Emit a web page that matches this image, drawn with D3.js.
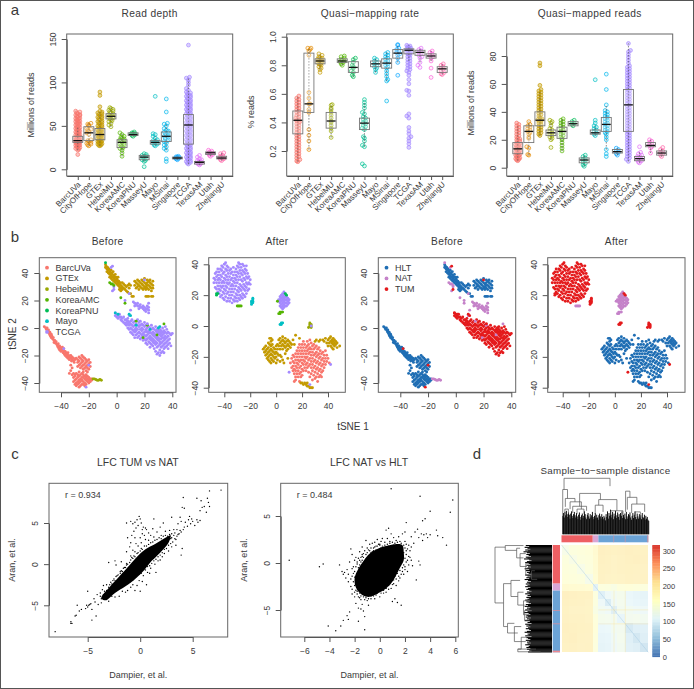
<!DOCTYPE html>
<html>
<head>
<meta charset="utf-8">
<script src="https://cdn.jsdelivr.net/npm/d3@7"></script>
<style>
  body { margin: 0; background: #fff; }
  text { font-family: "Liberation Sans", sans-serif; fill: #3a3a3a; }
</style>
</head>
<body>
<div id="chart"></div>
<script>
// cohorts and their colours
var cohorts = ["BarcUVa", "CityOfHope", "GTEx", "HebeiMU", "KoreaAMC", "KoreaPNU", "MasseyU", "Mayo", "MSinai", "Singapore", "TCGA", "TexasAM", "Utah", "ZhejiangU"];
var cohortColors = ["#F8766D", "#E38900", "#C49A00", "#99A800", "#53B400", "#00BC56", "#00C094", "#00BFC4", "#00B6EB", "#06A4FF", "#A58AFF", "#DF70F8", "#FB61D7", "#FF66A8"];

// a: values read per cohort, same order as cohorts
var depthValues = [
  [17,22,23,24,25,25.5,26,27,27.5,28,29,29.5,30,30.5,31,31,31.5,32,32,32.5,33,33,33.5,34,34,34.5,35,35.5,36,37,37.5,38,39,39.5,40,41,42,42.5,43,44,45,45.5,46,47,48,48.5,49,50,51,52,52.5,53,54,55,55.5,56,57,58,58.5,59,60,61,62,62.5,63,64,65,66,67],
  [27,28,29,30,31,32,33,34,40,42,44,45,46,47,50,51,52,53],
  [27,27.5,28,29,29.5,30,31,31.5,32,33,33.5,34,35,35.5,36,37,37.5,38,39,39.5,40,40.5,41,42,42.5,43,44,45,45.5,46,47,48,49,50,51,52,53,54,55,56,57,58,59,60,61,62,63,64,65,66,67,72,85,89],
  [49,51,53,55,56,57,58,59,60,60.5,61,61.5,62,63,64,65,66,67,68,69,70,71],
  [15,19,22,24,25,26,27,28,29,30,31,32,33,34,35,36,37,38,40,42],
  [38,39,40,40.5,41,41.5,42,43],
  [3,9,10,11,12,13,14,15,16,17,18],
  [27,28,29,30,30.5,31,31.5,32,33,34,36,38,40,41,84],
  [9,12,22,24,26,28,30,32,33,34,35,36,37,38,39,40,41,42,43,44,45,47,50,52,53,66,81],
  [11,12,12.5,13,13.5,14,14.5,15],
  [6,7,8,9,10,11,12,13,14,15,16,17,18,19,20,21,22,23,24,25,26,27,28,29,30,31,32,33,34,35,36,37,38,39,40,41,42,43,44,45,46,47,48,49,50,51,52,53,54,55,56,57,58,59,60,61,62,63,64,65,66,67,68,69,70,71,72,73,74,75,76,77,78,79,80,81,82,83,84,85,86,87,88,89,91,93,97,100,103,105,106,143],
  [5,6,6.5,7,7.5,8,8.5,9,10,11,12,14,16],
  [15,16,17,18,18.5,19,20,21,22],
  [10,11,12,13,13.5,14,15,16,18,19]
];
var rateValues = [
  [0.125,0.13,0.14,0.15,0.16,0.17,0.18,0.19,0.2,0.21,0.22,0.23,0.24,0.25,0.26,0.27,0.28,0.29,0.3,0.31,0.32,0.33,0.34,0.35,0.36,0.37,0.38,0.39,0.4,0.405,0.41,0.415,0.42,0.43,0.44,0.45,0.46,0.47,0.48,0.49,0.5,0.51,0.52,0.53,0.54,0.55,0.56,0.57,0.585],
  [0.21,0.27,0.31,0.35,0.47,0.49,0.53,0.53,0.57,0.61,0.87,0.9,0.91,0.92,0.92],
  [0.75,0.77,0.78,0.79,0.8,0.805,0.81,0.815,0.82,0.825,0.83,0.835,0.84,0.845,0.85,0.855,0.86,0.87,0.88],
  [0.295,0.34,0.36,0.38,0.4,0.41,0.43,0.45,0.47,0.49,0.5,0.52,0.525],
  [0.8,0.81,0.82,0.825,0.83,0.835,0.84,0.85,0.86,0.865],
  [0.72,0.73,0.75,0.76,0.78,0.79,0.8,0.82,0.84,0.85],
  [0.095,0.11,0.23,0.24,0.27,0.29,0.3,0.35,0.36,0.37,0.38,0.39,0.4,0.41,0.42,0.43,0.44,0.46,0.47,0.5,0.52,0.54,0.56],
  [0.75,0.77,0.78,0.79,0.8,0.81,0.82,0.83,0.84,0.85],
  [0.55,0.69,0.7,0.72,0.74,0.76,0.78,0.79,0.8,0.81,0.82,0.83,0.84,0.85,0.86,0.87,0.88,0.89],
  [0.73,0.82,0.85,0.87,0.88,0.89,0.9,0.91,0.92,0.94,0.945],
  [0.225,0.25,0.27,0.29,0.3,0.32,0.34,0.365,0.43,0.445,0.46,0.59,0.62,0.625,0.67,0.7,0.73,0.75,0.76,0.77,0.78,0.79,0.8,0.81,0.82,0.83,0.84,0.85,0.86,0.87,0.875,0.88,0.885,0.89,0.895,0.9,0.905,0.91,0.915,0.92,0.925,0.93,0.935,0.94],
  [0.785,0.8,0.82,0.85,0.86,0.87,0.88,0.89,0.9,0.91,0.92],
  [0.715,0.78,0.83,0.85,0.86,0.87,0.88,0.89,0.9],
  [0.735,0.74,0.75,0.76,0.77,0.78,0.79,0.8,0.81]
];
var mappedValues = [
  [5,5.5,6,6.5,7,7.5,8,8.5,9,9.5,10,10.5,11,11.5,12,12.5,13,13.5,14,14.5,15,15.5,16,16.5,17,17.5,18,19,20,20.5,21,22,23,24,25,26,27,28,29,30,31,32],
  [9,9.5,14,15,21,22,24,25,26,27,28,29,30,31,33],
  [23,24,25,26,27,28,29,30,31,32,33,33.5,34,34.5,35,36,37,38,39,40,41,42,43,44,45,46,47,48,49,50,51,52,53,54,55,56,59,73,75],
  [14.5,20,21,22,23,24,25,26,27,28,30,32,33,34],
  [12,14,16,18,20,21,22,23,24,25,26,27,28,29,30,31,32,33,34,35],
  [30,31,32,33,34],
  [1,2,3,4,5,6,7,8,9],
  [23,24,25,26,27,28,29,30,32,34,63],
  [8,10,13,20,22,24,25,26,27,28,29,30,31,32,33,34,35,36,37,38,39,40,41,45,56,67],
  [9,10,11,12,13,14],
  [4.5,6,7,8,9,10,11,12,13,14,15,16,17,18,19,20,21,22,23,24,25,26,27,28,29,30,31,32,33,34,35,36,37,38,39,40,41,42,43,44,45,46,47,48,49,50,51,52,53,54,55,56,57,58,59,60,61,62,63,64,65,66,67,68,69,70,71,72,73,75,77,79,81,83,84,89],
  [3.5,4,5,5.5,6,6.5,7,7.5,8,9,10,11,15],
  [10.5,14,15,16,17,18,19,20],
  [8,9,10,11,12,13,14.5]
];
// box quartiles per cohort [q1, median, q3]
var depthBoxes = [[31,33,38],[33,42,49],[34,40,47],[58,61,64],[25,31,34],[39,40,42],[11,14,16],[29,31,33],[32,38,43],[12,13,14],[29,51,63],[6,8,9],[17,19,20],[12,13,15]];
var rateBoxes = [[0.32,0.415,0.48],[0.47,0.53,0.885],[0.81,0.83,0.845],[0.36,0.41,0.47],[0.82,0.83,0.845],[0.75,0.785,0.825],[0.35,0.395,0.43],[0.79,0.81,0.83],[0.78,0.815,0.845],[0.85,0.885,0.91],[0.88,0.905,0.915],[0.87,0.89,0.905],[0.85,0.865,0.88],[0.75,0.775,0.79]];
var mappedBoxes = [[10,13.5,18],[18,26,30],[30,34,40],[23,25,27],[21,26,29],[30,31.5,33],[3.5,5.5,7],[24,25,27],[26,31,36],[10.5,11.5,13],[26,45,56],[5,6.5,8],[15,16,18],[9,10.5,12]];

// b: tSNE embedding before correction
var beforeBarc = [[-52,1],[-51,0],[-50.5,-1],[-50,0],[-49.5,-2],[-49,-1.5],[-49,-3],[-48.5,-4],[-48,-3],[-48,-5],[-47.5,-6],[-47,-4.5],[-47,-7],[-46.5,-6],[-46,-8],[-45.5,-7],[-45,-9],[-45,-10.5],[-44.5,-9],[-44,-11],[-43.5,-10],[-43,-12],[-42.5,-13],[-42,-11.5],[-42,-14],[-41.5,-15],[-41,-13],[-41,-16],[-40.5,-14],[-40,-15.5],[-40,-17],[-39,-14],[-39,-16],[-38.5,-18],[-38,-15],[-38,-17],[-37.5,-19],[-37,-17],[-37,-20],[-36.5,-18],[-36,-19],[-36,-21],[-35.5,-20],[-35,-18],[-35,-22],[-34.5,-20],[-34,-21],[-34,-23],[-33,-20],[-33,-22],[-32.5,-24],[-32,-21],[-32,-23],[-31,-22],[-31,-24],[-30.5,-25],[-30,-23],[-33,-27],[-33,-31],[-32,-29],[-34,-33],[-31,-33],[-30,-34],[-32,-34],
  [-29,-22],[-28,-23],[-28,-25],[-27,-21],[-27,-24],[-27,-27],[-26,-22],[-26,-26],[-26,-29],[-25,-20],[-25,-23],[-25,-25],[-25,-28],[-24,-21],[-24,-24],[-24,-27],[-24,-30],[-23,-22],[-23,-26],[-23,-29],[-22,-23],[-22,-25],[-22,-28],[-22,-31],[-21,-24],[-21,-27],[-21,-29],[-20,-23],[-20,-26],[-20,-30],[-19,-25],[-19,-28],[-28,-28],[-24,-32],[-21,-32],
  [-31,-36],[-31,-39],[-30,-35],[-30,-38],[-30,-41],[-29,-37],[-29,-40],[-29,-42],[-28,-34],[-28,-36],[-28,-39],[-28,-41],[-27,-35],[-27,-38],[-27,-40],[-27,-43],[-26,-34],[-26,-37],[-26,-39],[-26,-42],[-25,-36],[-25,-38],[-25,-41],[-24,-34],[-24,-36],[-24,-39],[-24,-41],[-23,-35],[-23,-37],[-23,-40],[-23,-42],[-22,-34],[-22,-36],[-22,-38],[-22,-41],[-21,-35],[-21,-37],[-21,-39],[-20,-36],[-20,-38],[-20,-40],[-19,-37],[-19,-39],[-18,-37],[-18,-38],[-27,-32],[-25,-33],[-29,-33]];
var beforeGtex = [[-8,46],[-8,44],[-7.5,45],[-7,43],[-7,41],[-6.5,44],[-6,42],[-6,40],[-5.5,43],[-5,41],[-5,39],[-5,37],[-4.5,40],[-4,42],[-4,38],[-4,36],[-3.5,40],[-3,39],[-3,37],[-3,35],[-2.5,41],[-2,38],[-2,36],[-2,34],[-1.5,37],[-1,39],[-1,35],[-1,33],[-0.5,37],[0,36],[0,34],[0,32],[0.5,35],[1,37],[1,33],[1,31],[1.5,34],[2,32],[2,30],[2,28],[2.5,33],[3,31],[3,29],[3,27],[4,33],[4,30],[4,28],[5,29],[5,32],[6,31],[6,28],[7,30],[7,27],[8,26],[8,31],[9,29],[10,25],[11,23],[12,23],[9,32],[10,31],
  [13,34],[13,31],[14,33],[14,29],[15,35],[15,32],[15,30],[16,34],[16,31],[16,28],[17,33],[17,30],[18,35],[18,32],[18,29],[19,34],[19,31],[19,28],[20,36],[20,33],[20,30],[20,29],[21,32],[21,30],[21,28],[22,35],[22,33],[22,31],[22,29],[23,34],[23,31],[23,28],[24,35],[24,33],[24,30],[25,32],[25,29],[25,27],[26,34],[26,31],[26,29],[21,23],[22,23],[23,23],[25,23],[26,23]];
var beforeTcga = [[-1,11],[-1,9],[0,10],[0,8],[1,9],[1,7],[2,8],[2,10],[3,6],[3,8],[4,7],[4,5],[5,8],[5,4],[6,6],[6,3],[7,6],[7,4],[7,2],[8,7],[8,5],[8,3],[8,0],[9,4],[9,2],[9,-1],[10,5],[10,3],[10,0],[10,-3],[11,6],[11,2],[11,-1],[11,-4],[12,4],[12,1],[12,-2],[12,-5],[13,5],[13,2],[13,-1],[13,-3],[13,-7],[14,3],[14,0],[14,-2],[14,-5],[15,6],[15,2],[15,-1],[15,-4],[15,-7],[16,4],[16,1],[16,-3],[16,-6],[17,5],[17,2],[17,-1],[17,-4],[17,-8],[18,3],[18,0],[18,-2],[18,-5],[18,-7],[19,2],[19,-1],[19,-4],[19,-6],[19,-9],[20,4],[20,1],[20,-3],[20,-5],[20,-8],[21,2],[21,-1],[21,-2],[21,-6],[21,-9],[21,-11],[22,3],[22,0],[22,-3],[22,-5],[22,-8],[22,-12],[23,1],[23,-2],[23,-4],[23,-7],[23,-10],[24,0],[24,-3],[24,-6],[24,-8],[24,-11],[24,-14],[25,2],[25,-1],[25,-4],[25,-7],[25,-9],[25,-12],[26,0],[26,-3],[26,-5],[26,-8],[26,-10],[26,-13],[27,-1],[27,-4],[27,-6],[27,-9],[27,-11],[27,-15],[28,1],[28,-2],[28,-5],[28,-7],[28,-10],[28,-12],[28,-17],[29,-1],[29,-3],[29,-6],[29,-8],[29,-11],[29,-14],[29,-19],[30,0],[30,-2],[30,-4],[30,-7],[30,-9],[30,-13],[30,-18],[31,-1],[31,-3],[31,-5],[31,-8],[31,-10],[31,-12],[31,-16],[31,-20],[32,-2],[32,-4],[32,-6],[32,-8],[32,-11],[32,-14],[32,-18],[33,0],[33,-3],[33,-5],[33,-7],[33,-10],[33,-13],[33,-17],[34,-2],[34,-4],[34,-7],[34,-9],[34,-12],[34,-15],[35,1],[35,-3],[35,-6],[35,-8],[35,-11],[35,-14],[36,-1],[36,-4],[36,-7],[36,-10],[36,-13],[37,-3],[37,-6],[37,-9],[37,-12],[37,-15],[38,-4],[38,-8],[38,-11],[39,-5],[39,-13],[40,-4],[34,-18]];
var beforeTcgaNat = [[12,19],[13,18],[13,16],[14,17],[15,18],[15,16],[16,16],[16,14],[17,17],[17,15],[18,15],[19,16],[19,14],[20,15],[20,13],[21,14],[21,12],[22,16],[22,14],[23,18],[23,15],[23,13],[23,11],[9,25],[6,20],[10,13],[9,9],[-4,44],[-2,30],[-3,27]];
var beforeHebei = [[-17,-37],[-16,-37],[-15,-37.5],[-14,-38],[-13,-38],[-12,-37.5],[-11,-38]];
var beforeAmc = [[-5,33],[-4,32],[-3,32],[-2,31],[3,22],[6,18],[14,5],[19,-7],[22,2],[29,-5],[34,3]];
var beforePnu = [[-8,47.5]];
var beforeMayo = [[-1,11],[1,10],[9,10],[10,9],[14,2],[24,-1],[30,0],[31,1]];
var beforeStray = [[-3,45],[-20,-27],[-22,-43],[-38,-15],[-2,28],[20,35],[22,3]];

// b: tSNE embedding after correction
var afterTcga = [[-48,28],[-48,31],[-47,25],[-47,30],[-47,34],[-46,24],[-46,28],[-46,32],[-46,35],[-45,22],[-45,26],[-45,30],[-45,33],[-45,37],[-44,21],[-44,24],[-44,28],[-44,31],[-44,35],[-43,19],[-43,23],[-43,26],[-43,30],[-43,33],[-43,37],[-42,20],[-42,25],[-42,28],[-42,32],[-42,36],[-42,39],[-41,18],[-41,22],[-41,26],[-41,29],[-41,34],[-41,38],[-40,17],[-40,21],[-40,24],[-40,28],[-40,31],[-40,35],[-40,40],[-39,19],[-39,23],[-39,26],[-39,30],[-39,33],[-39,37],[-39,41],[-38,16],[-38,21],[-38,25],[-38,28],[-38,32],[-38,36],[-38,39],[-37,18],[-37,22],[-37,27],[-37,30],[-37,34],[-37,38],[-36,16],[-36,20],[-36,24],[-36,28],[-36,32],[-36,36],[-35,18],[-35,22],[-35,26],[-35,30],[-35,34],[-35,37],[-34,15],[-34,20],[-34,24],[-34,27],[-34,31],[-34,35],[-33,17],[-33,22],[-33,26],[-33,29],[-33,33],[-33,38],[-32,16],[-32,19],[-32,24],[-32,28],[-32,31],[-32,35],[-31,18],[-31,21],[-31,26],[-31,30],[-31,33],[-31,37],[-30,16],[-30,20],[-30,23],[-30,28],[-30,32],[-30,35],[-30,39],[-29,18],[-29,22],[-29,25],[-29,30],[-29,34],[-29,38],[-29,41],[-28,17],[-28,20],[-28,24],[-28,27],[-28,32],[-28,36],[-28,40],[-27,19],[-27,23],[-27,26],[-27,30],[-27,34],[-27,38],[-26,18],[-26,21],[-26,25],[-26,29],[-26,33],[-26,36],[-26,40],[-25,20],[-25,24],[-25,27],[-25,31],[-25,35],[-25,39],[-24,19],[-24,23],[-24,26],[-24,30],[-24,34],[-24,37],[-23,21],[-23,25],[-23,28],[-23,32],[-23,36],[-23,39],[-22,23],[-22,27],[-22,31],[-22,34],[-21,24],[-21,28],[-21,32],[-20,27],[-20,30]];
var afterTcgaNat = [[2,17],[2,16],[3,19],[3,17],[3,15],[3,13],[4,20],[4,18],[4,16],[4,14],[4,12],[5,21],[5,19],[5,17],[5,15],[5,13],[5,11],[6,22],[6,20],[6,18],[6,16],[6,14],[6,12],[7,21],[7,19],[7,17],[7,15],[7,13],[8,19],[8,17],[8,15],[8,13],[9,18],[9,16],[9,14],[10,17],[10,15]];
var afterBarc = [[11,-24],[12,-21],[12,-27],[13,-19],[13,-23],[13,-26],[13,-29],[14,-20],[14,-24],[14,-28],[14,-31],[15,-18],[15,-22],[15,-26],[15,-29],[15,-33],[16,-16],[16,-20],[16,-24],[16,-27],[16,-31],[17,-14],[17,-18],[17,-22],[17,-25],[17,-29],[17,-33],[18,-12],[18,-16],[18,-20],[18,-23],[18,-27],[18,-31],[18,-36],[19,-14],[19,-18],[19,-22],[19,-26],[19,-30],[19,-33],[20,-12],[20,-16],[20,-20],[20,-24],[20,-28],[20,-32],[21,-10],[21,-14],[21,-18],[21,-22],[21,-25],[21,-29],[22,-12],[22,-16],[22,-20],[22,-23],[22,-27],[23,-14],[23,-18],[23,-21],[23,-25],[23,-29],[24,-10],[24,-13],[24,-16],[24,-20],[24,-24],[24,-27],[25,-12],[25,-15],[25,-18],[25,-22],[25,-26],[25,-30],[26,-9],[26,-14],[26,-17],[26,-21],[26,-25],[26,-33],[27,-11],[27,-15],[27,-19],[27,-23],[27,-27],[27,-31],[28,-13],[28,-17],[28,-21],[28,-25],[28,-29],[28,-35],[29,-12],[29,-15],[29,-19],[29,-23],[29,-27],[29,-32],[30,-14],[30,-18],[30,-22],[30,-26],[30,-30],[30,-34],[31,-13],[31,-17],[31,-20],[31,-24],[31,-28],[31,-33],[32,-15],[32,-19],[32,-23],[32,-27],[32,-31],[32,-36],[33,-14],[33,-18],[33,-21],[33,-25],[33,-29],[33,-33],[34,-16],[34,-20],[34,-24],[34,-28],[34,-32],[35,-18],[35,-22],[35,-26],[35,-30],[36,-17],[36,-21],[36,-25],[36,-29],[37,-19],[37,-23],[37,-27],[38,-16],[38,-21],[38,-25],[39,-19],[39,-23],[40,-21],[41,-24],[15,-35],[14,-36],[35,-33]];
var afterGtex = [[-10,-15],[-9,-14],[-9,-17],[-8,-13],[-8,-16],[-8,-19],[-7,-15],[-7,-18],[-7,-21],[-6,-11],[-6,-14],[-6,-17],[-6,-20],[-6,-22],[-5,-8],[-5,-12],[-5,-16],[-5,-19],[-5,-23],[-4,-8],[-4,-10],[-4,-13],[-4,-15],[-4,-18],[-4,-21],[-4,-24],[-3,-9],[-3,-12],[-3,-16],[-3,-19],[-3,-22],[-2,-14],[-2,-17],[-2,-20],[-2,-23],[-1,-15],[-1,-18],[-1,-21],[0,-13],[0,-17],[0,-20],[0,-24],[1,-12],[1,-15],[1,-18],[1,-22],[2,-9],[2,-13],[2,-19],[3,-8],[3,-11],[3,-15],[3,-23],[4,-10],[4,-13],[4,-20],[5,-7],[5,-9],[5,-12],[5,-15],[5,-22],[6,-10],[6,-13],[6,-24],[7,-8],[7,-11],[7,-14],[7,-18],[8,-10],[8,-13],[8,-16],[9,-9],[9,-12],[9,-15],[10,-10],[10,-13],[11,-11],[11,-14],[12,-12],[13,-9],[14,-12],[15,-6],[18,-8],[9,-21],[3,-19],
  [34,-9],[36,-9],[37,-10],[38,-8],[39,-11],[40,-9],[40,-13],[41,-8],[41,-11],[42,-7],[42,-10],[42,-13],[43,-9],[43,-11],[43,-14],[44,-8],[44,-10],[44,-12],[44,-15],[45,-9],[45,-11],[45,-13],[46,-10],[46,-12],[47,-11],[47,-14],[49,-13],[33,-10],[31,-9],[30,-10],
  [19,-37],[20,-37],[21,-38],[22,-37],[23,-38],[24,-39],[24,-37],[25,-39],[26,-40],[27,-40],[28,-40]];
var afterHebei = [[26,0],[26,1],[26,2],[27,0],[27,1],[27,-1],[25,-1]];
var afterPnu = [[-46,20],[-46,21],[-45,21],[7,21],[8,20]];
var afterAmc = [[-30,13],[-29,13],[-28,13],[-27,13],[1,16],[2,8],[3,8],[3,9],[4,9],[5,9]];
var afterMayo = [[-19,14],[-19,15],[-19,16],[-18,15],[-18,16],[-18,17],[-18,18],[3,1],[4,1],[4,2],[5,2]];
var afterStray = [[10,-30],[42,-25],[26,-38],[27,0]];

// c: log fold changes, core outlines and the points readable around them
var lfcTumCore = [[-3.7,-4.1],[-3,-2.9],[-2,-1.5],[-1,-0.1],[-0.3,0.9],[0.5,1.8],[1.5,2.5],[2.4,3.2],[2.9,3.5],[2.7,2.6],[1.9,1.4],[1.1,0.4],[0.4,-0.7],[-0.4,-1.7],[-1.4,-2.7],[-2.4,-3.5],[-3.3,-4.4]];
var lfcTumPoints = [[-8.1,-8.2],[-6.6,-7.2],[-6.6,-7],[-6.5,-7.2],[-6.2,-6.3],[-6.1,-6.2],[-6,-5],[-5.8,-5.7],[-5.6,-5.5],[-5.2,-5.4],[-5.1,-5],[-5,-5.2],[-4.9,-5],[-4.8,-4.9],[-4.6,-5.5],[-4.6,-6.8],[-4.2,-6.3],[-5,-3.3],[-4.7,-4.8],[-4.4,-4.2],[-4.3,-4.6],[-4.1,-3.7],[-4,-4.9],[-3.8,-3.5],[-3.7,-4.7],[-3.6,-3.1],[-3.5,-2.6],[-3.4,-4.2],[-3.2,-2.5],[-3,-4.5],[-2.8,-2.2],[-2.7,-3.9],[-2.5,-1.8],[-2.4,-4],[-2.3,-1.5],[-2,-3.9],[-1.9,-0.9],[-1.8,0.3],[-1.7,-3.3],[-1.5,-0.4],[-1.4,-3.4],[-1.3,0.1],[-1.2,-3.2],[-1,2.1],[-0.9,1],[-0.9,-2.8],[-0.8,0.8],[-0.7,1.7],[-0.7,-2.5],[-0.5,-3.2],[-0.5,1.5],[-0.4,2.5],[-0.3,-2.6],[-0.2,2.2],[-0.1,-2],[0,3.2],[0,-3.3],[0.1,2.6],[0.2,-2.1],[0.3,-1.4],[0.4,3.5],[0.5,3],[0.6,-2.5],[0.7,-1],[0.8,2.9],[0.9,-1.1],[1,3.5],[1,-0.5],[1.2,4.3],[1.3,3.3],[1.4,0],[1.5,-1],[1.6,3.9],[1.7,0.4],[1.9,0.5],[2,3.5],[2.1,0.9],[2.3,1.3],[2.4,4],[2.7,1.6],[2.8,4.1],[3,2.1],[3.2,4.2],[3.3,3.8],[3.4,2.3],[3.5,4.2],[3.6,3.6],[3.8,4.1],[3.9,1.1],[4,1.9],[4.1,4.2],[4.2,4.5],[4.3,5.1],[4.5,4.6],[4.6,5.4],[4.7,5.8],[4.8,4.9],[4.9,5.5],[5,5.2],[5.2,4.7],[5.4,5.4],[5.5,5.1],[5.7,5.3],[3.9,5.2],[4,6.9],[4.2,6.8],[4.1,8.1],[5.4,8],[5.8,7.7],[6.4,8],[6.6,8.9],[7.7,9],[6.5,7.5],[6.6,7],[6.1,7],[5.9,6.9],[5.7,6.5],[6.3,6.3],[3.6,4.9],[3.8,5.7],[3,5.7],[2.2,5],[1.9,4.5],[1.3,5.5],[-1.3,5],[-0.9,5.2],[-0.7,4.9],[-0.5,5.1],[-0.3,5.4],[-0.1,5.8],[0,5.5],[0.1,5],[-0.2,4.7],[0.3,4.5],[0.5,4.4],[0.6,4.2],[0.8,3.8],[0.2,4.2],[-0.4,4.4],[-0.6,4],[-0.8,3.5],[-1.2,3.2],[-0.5,3.2],[0.2,3.7],[-0.9,2.6],[-1.3,1.5],[-2.4,0.4],[-3,0.2],[-2.3,-0.1]];
var lfcTumEdge = [[-3.8,-3.9],[-3.7,-4.2],[-3.5,-3.7],[-3.4,-3.3],[-3.3,-4],[-3.2,-3.2],[-3.1,-3.7],[-3,-2.8],[-2.9,-3.4],[-2.9,-2.5],[-2.8,-3.5],[-2.7,-2.4],[-2.6,-3.3],[-2.6,-2],[-2.5,-3.2],[-2.4,-2],[-2.3,-3.2],[-2.2,-1.4],[-2.2,-2.9],[-2.1,-1.3],[-2,-2.9],[-1.9,-1.1],[-1.9,-2.5],[-1.8,-0.8],[-1.8,-2.6],[-1.7,-0.9],[-1.6,-2.5],[-1.6,-0.5],[-1.5,-2.2],[-1.4,-0.4],[-1.4,-2.4],[-1.3,-0.1],[-1.2,-2.3],[-1.2,0],[-1.1,-1.9],[-1,0.2],[-1,-2.2],[-0.9,0.5],[-0.8,-1.7],[-0.7,0.7],[-0.7,-1.9],[-0.6,1],[-0.5,-1.4],[-0.5,0.9],[-0.4,-1.5],[-0.3,1.3],[-0.3,-1.2],[-0.2,1.4],[-0.1,-1.2],[0,1.6],[0,-0.8],[0.1,1.9],[0.1,-1.1],[0.2,1.8],[0.3,-0.6],[0.4,2.2],[0.5,-0.7],[0.6,2.2],[0.7,-0.3],[0.8,2.4],[0.9,-0.2],[1,2.6],[1.1,0.1],[1.2,2.7],[1.3,0.4],[1.4,2.9],[1.5,0.6],[1.6,3],[1.7,0.9],[1.8,3.2],[1.9,1.1],[2,3.1],[2.1,1.4],[2.2,3.4],[2.3,1.8],[2.4,3.5],[2.5,1.9],[2.6,3.4],[2.7,2.3],[2.8,3.6],[2.9,2.5],[3,3.7],[3.1,2.7],[3.2,3.5],[3.3,3.1],[3.4,3],[3.5,3.4],[3,3.2],[2.9,3.1],[3.7,3.7],[3.9,3.9]];
var lfcNatCore = [[-1.9,-2.6],[-2,-1.6],[-1.7,-0.6],[-1.3,0.2],[-0.8,1],[-0.2,1.5],[0.5,1.8],[1.2,2],[1.8,1.9],[1.9,1.2],[1.9,0.3],[1.6,-0.5],[1.3,-1.3],[1,-2],[0.5,-2.7],[-0.1,-3.2],[-0.8,-3.6],[-1.4,-3.4]];
var lfcNatPoints = [[-7.2,0.3],[-4.8,-0.4],[-4.5,-0.1],[-4.1,-6.7],[-3.5,-7.2],[-3.1,-6.7],[-2.9,-6.1],[-2.6,-5.6],[-2.5,-6],[-2.4,-5.2],[-3.2,-0.2],[-3,-0.9],[-2.9,-1.2],[-2.8,-1],[-2.7,-1.6],[-2.6,-0.7],[-2.5,-1.2],[-2.5,-2],[-2.4,0.1],[-2.3,-1.7],[-2.3,1.5],[-2.2,0.9],[-2.2,-0.6],[-2.2,-2.8],[-2.2,-3.3],[-2.1,-0.4],[-2.1,-1.1],[-2,0.3],[-2,-3.1],[-2,-3.6],[-1.9,0.6],[-1.9,-4.3],[-1.8,-0.1],[-1.8,-3],[-1.7,0.5],[-1.7,-4.8],[-1.7,-6.2],[-1.6,1.2],[-1.6,-3.7],[-1.5,-4.9],[-1.4,1.7],[-1.4,0.7],[-1.4,-4.4],[-1.3,-5.1],[-1.2,1.3],[-1.2,-3.9],[-1.2,-5.7],[-1.2,-7.1],[-1.1,2.4],[-1,1.6],[-1,-4],[-0.9,-4.5],[-0.8,2],[-0.8,1.3],[-0.7,-3.8],[-0.6,2.1],[-0.5,1.6],[-0.4,2.2],[-0.4,-3.8],[-0.3,1.8],[-0.3,-3.4],[-0.2,2.5],[-0.1,2],[0,1.9],[0,-3.6],[0.1,2.3],[0.2,2.6],[0.3,-3.2],[0.4,2.2],[0.5,3.5],[0.5,-3.1],[0.6,2.6],[0.7,3.7],[0.7,-2.8],[0.8,2.3],[0.9,-2.7],[0.9,3.1],[0.9,7.9],[1,-4.1],[1.1,-2.2],[1.1,2.7],[1.2,-3.8],[1.3,-2.4],[1.3,2.4],[1.4,-4.2],[1.5,-1.9],[1.5,2.8],[1.6,-1.6],[1.7,-4.5],[1.8,3.1],[1.9,-1.2],[2,-0.7],[2,2.3],[2,3.3],[2.1,1.3],[2.1,4.3],[2.2,-0.9],[2.3,1.9],[2.4,0.6],[2.5,2.8],[2.6,-0.3],[2.7,2.1],[2.8,3.3],[2.9,-1.8],[3,3.6],[3.1,2.7],[3.1,0.2],[3.2,-0.2],[3.3,3.1],[3.4,4.5],[3.4,2.4],[3.5,3],[3.6,4.7],[3.7,3.1],[3.8,2.7],[4,3],[4,5.5],[3.2,7.1],[4.5,3.5],[4.6,2.9],[5,2.7],[5.3,1.9],[5.6,5.4],[5.8,6.7]];
var lfcNatEdge = [[-2.3,-2.5],[-2.2,-1.4],[-2.1,-2],[-2,-0.9],[-2,-2.4],[-2,-1.5],[-1.9,-0.4],[-1.9,-2.9],[-1.9,-1.8],[-1.8,-1.1],[-1.8,-3.3],[-1.8,0.1],[-1.8,-2.2],[-1.7,-0.5],[-1.7,-2.8],[-1.7,-3.6],[-1.6,0.3],[-1.6,-0.2],[-1.6,-3.2],[-1.5,0.6],[-1.5,-3.5],[-1.5,0.1],[-1.5,-3.9],[-1.4,0.9],[-1.4,-3.2],[-1.4,0.3],[-1.3,-3.6],[-1.3,0.6],[-1.3,1],[-1.2,0.2],[-1.2,-3.4],[-1.1,0.9],[-1.1,-3.7],[-1.1,0.4],[-1,1.1],[-1,-3.4],[-0.9,0.8],[-0.9,-3.8],[-0.9,1.4],[-0.8,-3.3],[-0.7,1.1],[-0.7,-3.5],[-0.7,1.6],[-0.6,1.2],[-0.6,-3.2],[-0.5,1.3],[-0.5,-3.5],[-0.4,1.7],[-0.4,-3.1],[-0.3,1.4],[-0.2,1.8],[-0.2,-3.2],[-0.1,1.4],[-0.1,-3],[0,2],[0,-2.9],[0.1,1.6],[0.1,-3.2],[0.2,1.8],[0.2,-2.6],[0.3,1.5],[0.3,-2.9],[0.4,1.9],[0.4,-2.3],[0.5,1.7],[0.5,-2.7],[0.6,2],[0.6,-2.1],[0.7,1.8],[0.7,-2.4],[0.8,2.1],[0.8,-2.2],[0.9,1.7],[0.9,-1.9],[1,2.2],[1,-2.3],[1,-1.6],[1.1,1.9],[1.1,-1.8],[1.2,2.1],[1.2,-1.4],[1.3,1.8],[1.3,-1.7],[1.4,2.2],[1.4,-1.1],[1.5,1.9],[1.5,-1.4],[1.6,2.3],[1.6,-0.8],[1.7,1.8],[1.7,-1.2],[1.7,2.1],[1.8,-0.5],[1.8,1.4],[1.8,-0.9],[1.9,1.9],[1.9,-0.2],[1.9,1.1],[2,0.5],[2,-0.4],[2,1.6],[2.1,0.1],[2.1,0.9],[2.1,2],[2.2,1.5],[2.2,0.3],[2.3,0.7],[2.3,-0.2],[2.4,1.3],[2.5,0.3],[2.5,1.7]];

// d: heatmap, distances between sample blocks (symmetric), and block edges in percent of samples
var heatBreaks = [0, 9, 18, 27, 36, 42.5, 50, 57, 64, 73, 82, 91, 100];
var heatValues = [
  [135,150,152,155,172,200,198,196,197,200,198,196],
  [150,138,150,152,170,198,196,192,195,198,200,197],
  [152,150,134,150,168,196,194,192,194,196,195,193],
  [155,152,150,130,166,194,192,190,192,194,193,195],
  [172,170,168,166,95,150,148,140,152,155,152,150],
  [200,198,196,194,150,92,110,118,128,104,100,98],
  [198,196,194,192,148,110,85,112,126,106,102,100],
  [196,192,192,190,140,118,112,90,122,118,112,110],
  [197,195,194,192,152,128,126,122,100,124,126,122],
  [200,198,196,194,155,104,106,118,124,82,92,94],
  [198,200,195,193,152,100,102,112,126,92,78,90],
  [196,197,193,195,150,98,100,110,122,94,90,76]
];
var heatTicks = [0, 50, 100, 150, 200, 250, 300];
var heatColors = ["#4575B4", "#91BFDB", "#E0F3F8", "#FFFFBF", "#FEE090", "#FC8D59", "#D73027"];
var colSegments = [[0, 36, "#EE5F63"], [36, 42.5, "#D9A6D6"], [42.5, 100, "#6BA3D6"], [60, 60.6, "#EE8A90"], [73, 73.6, "#EE8A90"], [99, 100, "#EE8A90"]];
var rowSegments = [[0, 36, "#EE5F63"], [36, 42.5, "#D9A6D6"], [42.5, 100, "#6BA3D6"], [60.6, 61.2, "#EE8A90"], [73.2, 73.8, "#EE8A90"], [98.5, 100, "#EE8A90"]];

// merges [posA, posB, height, heightA, heightB]
var topMerges = [[2,55,100,80,86],[0.5,6,80,30,64],[3.5,14.6,64,49,58],[9,22,58,45,45],[20,44,73,50,62],[12,28,50,38,42],[42,63,62,52,42],[38,47,52,36,40],[73,78,77,40,66],[75,86,66,44,54],[80,95,54,38,40],[56,70,42,34,36],[3,7,45,34,36],[17,25,45,36,36],[84,90,40,32,30]];
var leftMerges = [[2,54,100,82,85],[0.5,5,82,50,62],[3,12,62,56,50],[8,20,56,46,44],[17,28,46,40,36],[36,76,85,72,78],[33,48,72,56,60],[44,56,60,50,48],[52,65,50,44,40],[61,70,48,36,38],[73,82,78,66,60],[76,90,66,54,46],[86,97,54,44,60],[97,99.5,60,28,20],[24,32,36,30,26]];
var topSpikes = [33,38,30,40,34,42,36,31,39,35,28,37,41,33,29,36,40,34,30,38,32,27,35,39,31,26,34,37,29,33,41,36,30,27,35,38,32,28,36,30,34,40,31,27,33,38,29,35,30,26,34,37,32,28,36,31,27,33,30,25,
  36,31,41,28,38,33,44,30,35,40,27,37,32,42,29,34,39,31,36,26,38,33,41,29,35,30,37,27,40,32,28,36,34,39,30,26,33,38,29,35,41,31,27,37,32,28,36,30,34,27,38,31,29,35,26,33,28,31,26,24];
var leftSpikes = [46,40,48,43,38,47,42,50,44,39,45,41,37,46,43,49,40,36,44,47,41,38,45,42,37,43,48,40,46,39,44,41,36,47,43,38,45,40,48,42,37,44,41,46,39,43,47,38,42,45,40,36,44,41,47,39,43,37,45,40,
  43,47,39,45,41,37,46,42,48,38,44,40,47,36,43,49,41,38,45,42,46,37,44,40,48,39,43,36,47,41,45,38,42,46,40,37,44,48,39,43,41,47,36,45,42,38,46,40,44,37,43,47,39,41,45,38,44,40,36,42];

// layout
var width = 694, height = 689;
var boxColor = "#666", axisColor = "#555";

var svg = d3.select("#chart").append("svg")
  .attr("width", width)
  .attr("height", height)
  .style("display", "block");

svg.append("rect")
  .attr("x", 0.5).attr("y", 0.5)
  .attr("width", width - 1).attr("height", height - 1)
  .attr("fill", "none").attr("stroke", "#555");

function addText(x, y, label, size, rotate) {
  var t = svg.append("text")
    .attr("text-anchor", "middle")
    .style("font-size", size + "px")
    .text(label);
  if (rotate) {
    t.attr("transform", "translate(" + x + "," + y + ") rotate(-90)");
  } else {
    t.attr("x", x).attr("y", y);
  }
  return t;
}

function addBox(x0, x1, y0, y1) {
  svg.append("rect")
    .attr("x", x0).attr("y", y0)
    .attr("width", x1 - x0).attr("height", y1 - y0)
    .attr("fill", "none")
    .attr("stroke", boxColor);
}

// R style axes: outward ticks, y labels turned sideways
function styleAxis(g) {
  g.selectAll("path, line").attr("stroke", axisColor);
  g.selectAll("text").style("font-size", "8.5px");
}

function leftAxis(scale, ticks, xPos, fmt) {
  var g = svg.append("g")
    .attr("transform", "translate(" + xPos + ",0)")
    .call(d3.axisLeft(scale).tickValues(ticks).tickSize(5).tickSizeOuter(0).tickFormat(fmt || d3.format("d")));
  styleAxis(g);
  g.selectAll("text")
    .attr("x", null).attr("dy", null)
    .attr("text-anchor", "middle")
    .attr("transform", "translate(-11,0) rotate(-90)");
  return g;
}

function bottomAxis(scale, ticks, yPos) {
  var g = svg.append("g")
    .attr("transform", "translate(0," + yPos + ")")
    .call(d3.axisBottom(scale).tickValues(ticks).tickSize(5).tickSizeOuter(0).tickFormat(d3.format("d")));
  styleAxis(g);
  g.selectAll("text").text(function(d) { return d < 0 ? "\u2212" + Math.abs(d) : d; }).attr("y", 11);
  return g;
}

// small beeswarm so dense cohorts form a narrow column
var swarmSteps = [0, -1.1, 1.1, -2.1, 2.1];
function swarm(values, y, cx) {
  var placed = [];
  values.slice().sort(d3.ascending).forEach(function(v, i) {
    var py = y(v);
    var off = swarmSteps.find(function(s) {
      return !placed.some(function(p) { return Math.hypot(p.x - (cx + s), p.y - py) < 2.6; });
    });
    if (off === undefined) off = swarmSteps[i % swarmSteps.length];
    placed.push({x: cx + off, y: py});
  });
  return placed;
}

function drawBeeswarm(opts) {
  var x = d3.scaleLinear().domain([0, 15]).range([opts.x0, opts.x1]);
  var y = d3.scaleLinear().domain(opts.yDomain).range(opts.yRange);

  cohorts.forEach(function(name, i) {
    // big cohorts read as a solid column in the picture
    var dense = opts.values[i].length > 30;
    svg.append("g").selectAll("circle")
      .data(swarm(opts.values[i], y, x(i + 1)))
      .enter().append("circle")
      .attr("cx", function(d) { return d.x; })
      .attr("cy", function(d) { return d.y; })
      .attr("r", 1.9)
      .attr("fill", cohortColors[i])
      .attr("fill-opacity", dense ? 0.4 : 0.1)
      .attr("stroke", cohortColors[i])
      .attr("stroke-opacity", 0.75)
      .attr("stroke-width", 0.9);
  });

  opts.boxes.forEach(function(b, i) {
    var cx = x(i + 1), iqr = b[2] - b[0];
    var inside = opts.values[i].filter(function(v) { return v >= b[0] - 1.5 * iqr && v <= b[2] + 1.5 * iqr; });
    var g = svg.append("g");
    g.append("line")
      .attr("x1", cx).attr("x2", cx)
      .attr("y1", y(d3.min(inside))).attr("y2", y(d3.max(inside)))
      .attr("stroke", "#555").attr("stroke-width", 0.7).attr("stroke-dasharray", "1.5,1.5");
    g.append("rect")
      .attr("x", x(i + 0.55)).attr("width", x(1.9) - x(1))
      .attr("y", y(b[2])).attr("height", y(b[0]) - y(b[2]))
      .attr("fill", "#fff").attr("fill-opacity", 0.25)
      .attr("stroke", "#777").attr("stroke-width", 0.9);
    g.append("line")
      .attr("x1", x(i + 0.6)).attr("x2", x(i + 1.4))
      .attr("y1", y(b[1])).attr("y2", y(b[1]))
      .attr("stroke", "#111").attr("stroke-width", 1.3);
  });

  addBox(opts.x0, opts.x1, 34, 176);
  leftAxis(y, opts.ticks, opts.x0, opts.format);

  var xAxis = svg.append("g")
    .attr("transform", "translate(0,176)")
    .call(d3.axisBottom(x).tickValues(d3.range(1, 15)).tickSize(4).tickSizeOuter(0).tickFormat(function(d) { return cohorts[d - 1]; }));
  styleAxis(xAxis);
  xAxis.selectAll("text")
    .style("font-size", "8px")
    .attr("text-anchor", "end")
    .attr("y", null).attr("dy", null)
    .attr("transform", "translate(3,9) rotate(-45)");

  addText((opts.x0 + opts.x1) / 2, 17, opts.title, 10.2).style("letter-spacing", "0.35px");
  addText(opts.x0 - 33, opts.yLabelY, opts.yLabel, 9, true);
}

drawBeeswarm({x0: 66.7, x1: 232.7, yDomain: [0, 150], yRange: [169.3, 39], ticks: [0, 50, 100, 150], values: depthValues, boxes: depthBoxes, title: "Read depth", yLabel: "Millions of reads", yLabelY: 105});
drawBeeswarm({x0: 286.7, x1: 453.3, yDomain: [0.2, 1], yRange: [151, 36.7], ticks: [0.2, 0.4, 0.6, 0.8, 1], format: d3.format(".1f"), values: rateValues, boxes: rateBoxes, title: "Quasi\u2212mapping rate", yLabel: "% reads", yLabelY: 112});
drawBeeswarm({x0: 506.7, x1: 672.7, yDomain: [0, 80], yRange: [167.7, 56], ticks: [0, 20, 40, 60, 80], values: mappedValues, boxes: mappedBoxes, title: "Quasi\u2212mapped reads", yLabel: "Millions of reads", yLabelY: 103});

// b: tSNE panels
var typeColors = {HLT: "#1F6EB4", NAT: "#C582C9", TUM: "#E41A1C"};
var barcColor = cohortColors[0], gtexColor = cohortColors[2], hebeiColor = cohortColors[3], amcColor = cohortColors[4], pnuColor = cohortColors[5], mayoColor = cohortColors[7], tcgaColor = cohortColors[10];

var beforeGroups = [
  {points: beforeBarc, cohort: barcColor, type: "HLT"},
  {points: beforeGtex, cohort: gtexColor, type: "HLT"},
  {points: beforeTcga, cohort: tcgaColor, type: "TUM"},
  {points: beforeTcgaNat, cohort: tcgaColor, type: "NAT"},
  {points: beforeHebei, cohort: hebeiColor, type: "NAT"},
  {points: beforeAmc, cohort: amcColor, type: "NAT"},
  {points: beforePnu, cohort: pnuColor, type: "NAT"},
  {points: beforeMayo, cohort: mayoColor, type: "TUM"},
  {points: beforeStray, cohort: tcgaColor, type: "TUM"}
];
var afterGroups = [
  {points: afterTcga, cohort: tcgaColor, type: "TUM"},
  {points: afterTcgaNat, cohort: tcgaColor, type: "NAT"},
  {points: afterBarc, cohort: barcColor, type: "HLT"},
  {points: afterGtex, cohort: gtexColor, type: "HLT"},
  {points: afterHebei, cohort: hebeiColor, type: "TUM"},
  {points: afterPnu, cohort: pnuColor, type: "TUM"},
  {points: afterAmc, cohort: amcColor, type: "NAT"},
  {points: afterMayo, cohort: mayoColor, type: "TUM"},
  {points: afterStray, cohort: tcgaColor, type: "TUM"}
];

function drawTsne(opts) {
  var x = d3.scaleLinear().domain([-40, 40]).range(opts.xRange);
  var y = d3.scaleLinear().domain([-40, 40]).range(opts.yRange);

  opts.groups.forEach(function(group) {
    var color = opts.byType ? typeColors[group.type] : group.cohort;
    svg.append("g").selectAll("circle")
      .data(group.points)
      .enter().append("circle")
      .attr("cx", function(d) { return x(d[0]); })
      .attr("cy", function(d) { return y(d[1]); })
      .attr("r", 1.45)
      .attr("fill", color);
  });

  addBox(opts.x0, opts.x1, 257.7, 392.3);
  leftAxis(y, [-40, -20, 0, 20, 40], opts.x0, function(d) { return d < 0 ? "\u2212" + Math.abs(d) : d; });
  bottomAxis(x, [-40, -20, 0, 20, 40], 392.3);
  addText((opts.x0 + opts.x1) / 2, 244.5, opts.title, 10.2).style("letter-spacing", "0.3px");
}

var beforeYRange = [383, 273], afterYRange = [387.7, 264.3];
drawTsne({x0: 39.3, x1: 176, xRange: [61, 172.3], yRange: beforeYRange, groups: beforeGroups, byType: false, title: "Before"});
drawTsne({x0: 208.7, x1: 345.3, xRange: [224.3, 328], yRange: afterYRange, groups: afterGroups, byType: false, title: "After"});
drawTsne({x0: 378.3, x1: 515.7, xRange: [400.3, 511.3], yRange: beforeYRange, groups: beforeGroups, byType: true, title: "Before"});
drawTsne({x0: 547.7, x1: 685, xRange: [562.7, 667], yRange: afterYRange, groups: afterGroups, byType: true, title: "After"});

function drawLegend(x, names, colors) {
  names.forEach(function(name, i) {
    var y = 267.7 + i * 10.7;
    svg.append("circle").attr("cx", x).attr("cy", y).attr("r", 1.9).attr("fill", colors[i]);
    svg.append("text").attr("x", x + 8.5).attr("y", y + 3).style("font-size", "9px").text(name);
  });
}
drawLegend(47, ["BarcUVa", "GTEx", "HebeiMU", "KoreaAMC", "KoreaPNU", "Mayo", "TCGA"], [barcColor, gtexColor, hebeiColor, amcColor, pnuColor, mayoColor, tcgaColor]);
drawLegend(386.5, ["HLT", "NAT", "TUM"], [typeColors.HLT, typeColors.NAT, typeColors.TUM]);

addText(16, 334, "tSNE 2", 10, true);
addText(353, 430, "tSNE 1", 10);

// c: LFC scatter panels
function drawLfc(opts) {
  var x = d3.scaleLinear().domain(opts.xDomain).range(opts.xRange);
  var y = d3.scaleLinear().domain([-5, 5]).range(opts.yRange);
  var line = d3.line().x(function(d) { return x(d[0]); }).y(function(d) { return y(d[1]); }).curve(d3.curveCatmullRomClosed);

  svg.append("path").attr("d", line(opts.core)).attr("fill", "#000");
  svg.append("g").selectAll("circle")
    .data(opts.points.concat(opts.edge))
    .enter().append("circle")
    .attr("cx", function(d) { return x(d[0]); })
    .attr("cy", function(d) { return y(d[1]); })
    .attr("r", 0.7)
    .attr("fill", "#000");

  addBox(opts.x0, opts.x1, 483.3, 637);
  leftAxis(y, [-5, 0, 5], opts.x0, function(d) { return d < 0 ? "\u2212" + Math.abs(d) : d; });
  bottomAxis(x, opts.xTicks, 637);
  addText((opts.x0 + opts.x1) / 2 - 0.5, 466, opts.title, 10.5);
  addText((opts.x0 + opts.x1) / 2, 678, "Dampier, et al.", 9);
  addText(opts.x0 - 34, 560, "Aran, et al.", 9, true);
  svg.append("text").attr("x", opts.x0 + 16).attr("y", 497.5).style("font-size", "9px").text(opts.rLabel);
}

drawLfc({x0: 49, x1: 227.7, xDomain: [-5, 5], xRange: [87.7, 192.7], yRange: [605.3, 523], core: lfcTumCore, points: lfcTumPoints, edge: lfcTumEdge, xTicks: [-5, 0, 5], title: "LFC TUM vs NAT", rLabel: "r = 0.934"});
drawLfc({x0: 280.7, x1: 458.3, xDomain: [-6, 6], xRange: [304.3, 455.3], yRange: [610, 516], core: lfcNatCore, points: lfcNatPoints, edge: lfcNatEdge, xTicks: [-6, -4, -2, 0, 2, 4, 6], title: "LFC NAT vs HLT", rLabel: "r = 0.484"});

// d: clustered heatmap
var heatColor = d3.scaleLinear()
  .domain(heatColors.map(function(c, i) { return i * 316 / 6; }))
  .range(heatColors);
var heatX = d3.scaleLinear().domain([0, 100]).range([561.5, 648.3]);
var heatY = d3.scaleLinear().domain([0, 100]).range([545, 652.3]);

heatValues.forEach(function(row, r) {
  svg.append("g").selectAll("rect")
    .data(row)
    .enter().append("rect")
    .attr("x", function(d, c) { return heatX(heatBreaks[c]); })
    .attr("y", heatY(heatBreaks[r]))
    .attr("width", function(d, c) { return heatX(heatBreaks[c + 1]) - heatX(heatBreaks[c]); })
    .attr("height", heatY(heatBreaks[r + 1]) - heatY(heatBreaks[r]))
    .attr("fill", function(d) { return heatColor(d); })
    .attr("fill-opacity", 0.6)
    .attr("shape-rendering", "crispEdges");
});
// diagonal (zero distance) and the two stray tumour rows/columns
svg.append("line")
  .attr("x1", heatX(0)).attr("y1", heatY(0)).attr("x2", heatX(100)).attr("y2", heatY(100))
  .attr("stroke", heatColor(55)).attr("stroke-opacity", 0.35).attr("stroke-width", 1);
[60.5, 73.5].forEach(function(p) {
  svg.append("line").attr("x1", heatX(42.5)).attr("x2", heatX(100)).attr("y1", heatY(p)).attr("y2", heatY(p))
    .attr("stroke", heatColor(205)).attr("stroke-opacity", 0.6).attr("stroke-width", 0.6);
  svg.append("line").attr("x1", heatX(p)).attr("x2", heatX(p)).attr("y1", heatY(42.5)).attr("y2", heatY(100))
    .attr("stroke", heatColor(205)).attr("stroke-opacity", 0.6).attr("stroke-width", 0.6);
});

colSegments.forEach(function(s) {
  svg.append("rect").attr("x", heatX(s[0])).attr("width", heatX(s[1]) - heatX(s[0]))
    .attr("y", 535.3).attr("height", 7).attr("fill", s[2]);
});
rowSegments.forEach(function(s) {
  svg.append("rect").attr("y", heatY(s[0])).attr("height", heatY(s[1]) - heatY(s[0]))
    .attr("x", 552.7).attr("width", 7.3).attr("fill", s[2]);
});

// top dendrogram
var topH = d3.scaleLinear().domain([0, 100]).range([534.3, 478.3]);
var topPos = d3.scaleBand().domain(d3.range(topSpikes.length)).range([562.3, 649]);
svg.append("g").selectAll("rect")
  .data(topSpikes)
  .enter().append("rect")
  .attr("x", function(d, i) { return topPos(i); })
  .attr("width", topPos.bandwidth() + 0.2)
  .attr("y", function(d) { return topH(d); })
  .attr("height", function(d) { return topH(0) - topH(d); })
  .attr("fill", "#000");
var topLeaf = d3.scaleLinear().domain([0, 100]).range([562.3, 649]);
svg.append("g").selectAll("path")
  .data(topMerges)
  .enter().append("path")
  .attr("fill", "none").attr("stroke", "#555").attr("stroke-width", 0.7)
  .attr("d", function(m) {
    return "M" + topLeaf(m[0]) + "," + topH(m[3]) + "V" + topH(m[2]) + "H" + topLeaf(m[1]) + "V" + topH(m[4]);
  });

// left dendrogram
var leftH = d3.scaleLinear().domain([0, 100]).range([552, 495]);
var leftPos = d3.scaleBand().domain(d3.range(leftSpikes.length)).range([545, 652.3]);
svg.append("g").selectAll("rect")
  .data(leftSpikes)
  .enter().append("rect")
  .attr("y", function(d, i) { return leftPos(i); })
  .attr("height", leftPos.bandwidth() + 0.2)
  .attr("x", function(d) { return leftH(d); })
  .attr("width", function(d) { return leftH(0) - leftH(d); })
  .attr("fill", "#000");
svg.append("g").selectAll("path")
  .data(leftMerges)
  .enter().append("path")
  .attr("fill", "none").attr("stroke", "#555").attr("stroke-width", 0.7)
  .attr("d", function(m) {
    return "M" + leftH(m[3]) + "," + heatY(m[0]) + "H" + leftH(m[2]) + "V" + heatY(m[1]) + "H" + leftH(m[4]);
  });

// colour bar
var barY = d3.scaleLinear().domain([0, 300]).range([656.7, 550.7]);
svg.append("g").selectAll("rect")
  .data(d3.range(0, 316, 4))
  .enter().append("rect")
  .attr("x", 652.3).attr("width", 7.7)
  .attr("y", function(d) { return barY(d + 4); })
  .attr("height", barY(0) - barY(4) + 0.4)
  .attr("fill", function(d) { return heatColor(d); });
svg.append("g").selectAll("text")
  .data(heatTicks)
  .enter().append("text")
  .attr("x", 662.7)
  .attr("y", function(d) { return barY(d) + 2.8; })
  .style("font-size", "7.5px")
  .text(function(d) { return d; });

addText(605.5, 474, "Sample\u2212to\u2212sample distance", 9.8).style("letter-spacing", "0.25px");

// panel letters
addText(15, 15, "a", 15);
addText(15, 242, "b", 15);
addText(15, 459, "c", 15);
addText(477, 459, "d", 15);
</script>
</body>
</html>
